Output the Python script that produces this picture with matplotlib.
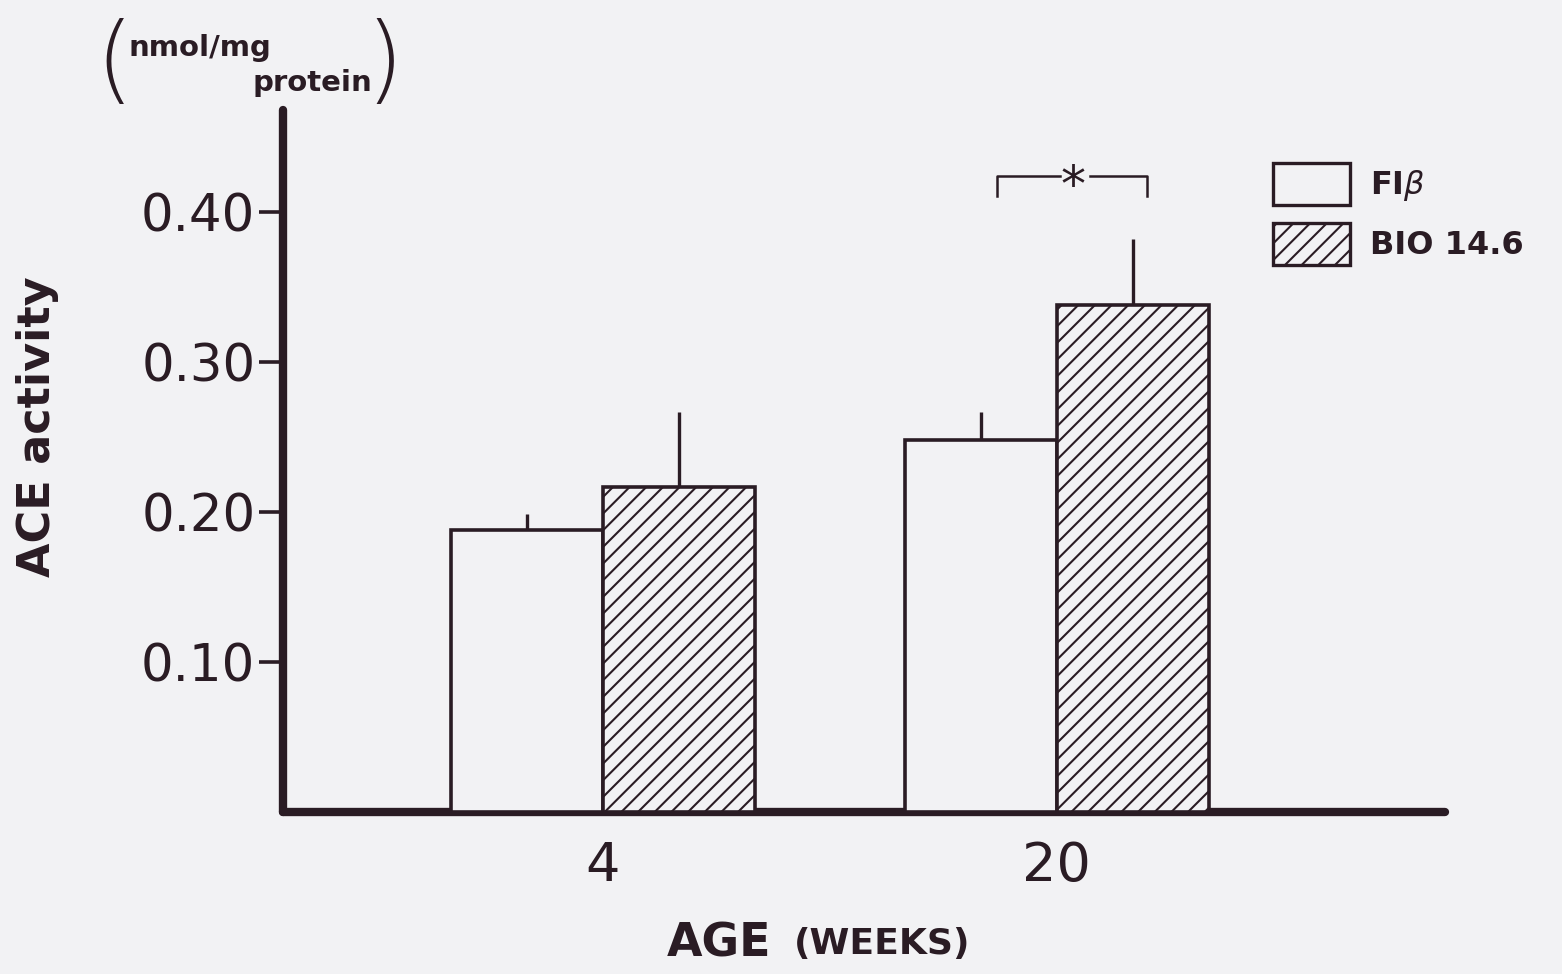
# encoding:utf-8
"""
ACE activity vs age, FIβ and BIO 14.6 hamsters
"""

import matplotlib.pyplot as plt
from matplotlib.patches import Rectangle
import numpy as np

ages = ['4', '20']
fib_mean = [0.188, 0.248]
fib_err = [0.011, 0.019]
bio_mean = [0.217, 0.338]
bio_err = [0.050, 0.044]
yticks = [0.10, 0.20, 0.30, 0.40]

INK = '#2a1c24'
BG = '#f2f2f4'

plt.rcParams['hatch.linewidth'] = 1.5
plt.rcParams['hatch.color'] = INK


def draw():
    fig = plt.figure(figsize=(15.62, 9.74), dpi=100, facecolor=BG)
    ax = fig.add_axes([0.1812, 0.1663, 0.7439, 0.7207])
    ax.set_facecolor(BG)

    x = np.arange(len(ages))
    w = 0.335
    ax.bar(x - w / 2, fib_mean, w, color=BG, edgecolor=INK, linewidth=2.6, zorder=3)
    ax.bar(x + w / 2, bio_mean, w, color=BG, edgecolor=INK, linewidth=2.6,
           hatch='//', zorder=3)
    # upper half error bars only
    ax.errorbar(x - w / 2, fib_mean, yerr=[[0] * 2, fib_err], fmt='none',
                ecolor=INK, elinewidth=2.4, capsize=0, zorder=2)
    ax.errorbar(x + w / 2, bio_mean, yerr=[[0] * 2, bio_err], fmt='none',
                ecolor=INK, elinewidth=2.4, capsize=0, zorder=2)

    ax.set_xlim(-0.705, 1.855)
    ax.set_ylim(0, 0.468)
    ax.set_xticks(x)
    ax.set_xticklabels(ages, fontsize=39, color=INK)
    ax.tick_params(axis='x', length=0, pad=20)
    ax.set_yticks(yticks)
    ax.set_yticklabels(['%.2f' % v for v in yticks], fontsize=37, color=INK)
    ax.tick_params(axis='y', length=17, width=2.6, color=INK, pad=3)

    for s in ['top', 'right']:
        ax.spines[s].set_visible(False)
    for s in ['left', 'bottom']:
        ax.spines[s].set_linewidth(6)
        ax.spines[s].set_color(INK)
        ax.spines[s].set_capstyle('round')

    # significance bracket between the 20-week bars
    bx0, bx1, by, leg = 1 - w / 2 + 0.035, 1 + w / 2 + 0.03, 0.424, 0.013
    ax.plot([bx0, bx0, 1.007], [by - leg, by, by], color=INK, lw=1.8, clip_on=False)
    ax.plot([1.073, bx1, bx1], [by, by, by - leg], color=INK, lw=1.8, clip_on=False)
    ax.text(1.036, by - 0.007, '*', ha='center', va='center',
            fontsize=36, color=INK)

    # labels
    fig.text(0.024, 0.562, 'ACE activity', rotation=90, ha='center', va='center',
             fontsize=32, fontweight='bold', color=INK)
    fig.text(0.494, 0.031, 'AGE', ha='right', va='center', fontsize=33,
             fontweight='bold', color=INK)
    fig.text(0.508, 0.031, '(WEEKS)', ha='left', va='center', fontsize=26,
             fontweight='bold', color=INK)

    # units in parentheses
    fig.text(0.082, 0.951, 'nmol/mg', ha='left', va='center', fontsize=21,
             fontweight='bold', color=INK)
    fig.text(0.238, 0.915, 'protein', ha='right', va='center', fontsize=21,
             fontweight='bold', color=INK)
    fig.text(0.073, 0.934, '(', ha='center', va='center', fontsize=70,
             fontweight='light', color=INK)
    fig.text(0.246, 0.934, ')', ha='center', va='center', fontsize=70,
             fontweight='light', color=INK)

    # legend drawn by hand
    fig.add_artist(Rectangle((0.815, 0.790), 0.049, 0.043, transform=fig.transFigure,
                             facecolor=BG, edgecolor=INK, linewidth=2.4))
    fig.add_artist(Rectangle((0.815, 0.728), 0.049, 0.043, transform=fig.transFigure,
                             facecolor=BG, edgecolor=INK, linewidth=2.4, hatch='//'))
    fig.text(0.877, 0.810, r'FI$\beta$', ha='left', va='center', fontsize=23,
             fontweight='bold', color=INK)
    fig.text(0.877, 0.748, 'BIO 14.6', ha='left', va='center', fontsize=23,
             fontweight='bold', color=INK)

    plt.savefig('out.png', dpi=100, facecolor=BG)


if __name__ == '__main__':
    draw()
